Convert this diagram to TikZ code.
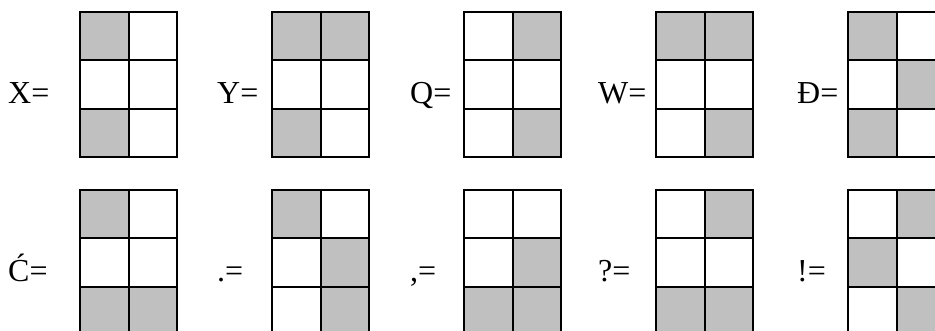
\documentclass[tikz,border=0pt]{standalone}
\usepackage{fontspec}
\setmainfont{Liberation Serif}
\definecolor{cellgray}{RGB}{192,192,192}
\tikzset{
  lbl/.style={anchor=base west, inner sep=0pt, font=\fontsize{32}{32}\selectfont},
  cellline/.style={line width=2pt, black},
  grayfill/.style={fill=cellgray}
}
\newcommand\cellgrid[3]{%
  \begin{scope}[shift={(#1,#2)}]
    \foreach \c/\r in {#3} {\fill[grayfill] (\c*48.5,\r*48.33) rectangle ++(48.5,48.33);}
    \draw[cellline] (0,0) rectangle (97,145);
    \draw[cellline] (48.5,0) -- (48.5,145);
    \draw[cellline] (0,48.33) -- (97,48.33);
    \draw[cellline] (0,96.67) -- (97,96.67);
  \end{scope}}
\begin{document}
\begin{tikzpicture}[x=1pt,y=-1pt]
\useasboundingbox (0,0) rectangle (935,330);
% row 1
\node[lbl] (lx) at (8,103) {X=};
\cellgrid{80}{12}{0/0,0/2}
\node[lbl] (ly) at (217,103) {Y=};
\cellgrid{272}{12}{0/0,1/0,0/2}
\node[lbl] (lq) at (410,103) {Q=};
\cellgrid{464}{12}{1/0,1/2}
\node[lbl] (lw) at (598,103) {W=};
\cellgrid{656}{12}{0/0,1/0,1/2}
\node[lbl] (ld) at (797,103) {Đ=};
\cellgrid{848}{12}{0/0,1/1,0/2}
% row 2
\node[lbl] (lc) at (8,281) {Ć=};
\cellgrid{80}{190}{0/0,0/2,1/2}
\node[lbl] (lp) at (217,281) {.=};
\cellgrid{272}{190}{0/0,1/1,1/2}
\node[lbl] (lk) at (410,281) {,=};
\cellgrid{464}{190}{1/1,0/2,1/2}
\node[lbl] (lqm) at (598,281) {?=};
\cellgrid{656}{190}{1/0,0/2,1/2}
\node[lbl] (le) at (797,281) {!=};
\cellgrid{848}{190}{1/0,0/1,1/2}
\end{tikzpicture}
\end{document}
